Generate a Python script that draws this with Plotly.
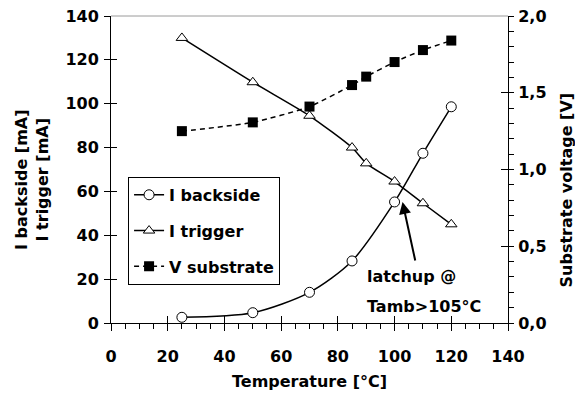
import plotly.graph_objects as go

temp_backside = [25, 50, 70, 85, 100, 110, 120]
i_backside = [2.6, 4.7, 14, 28.3, 55.2, 77.4, 98.6]

temp_trigger = [25, 50, 70, 85, 90, 100, 110, 120]
i_trigger = [130, 109.8, 94.5, 80, 72.8, 64.5, 54.6, 45]

temp_substrate = [25, 50, 70, 85, 90, 100, 110, 120]
v_substrate = [1.25, 1.307, 1.41, 1.55, 1.605, 1.70, 1.778, 1.84]

x_ticks = [0, 20, 40, 60, 80, 100, 120, 140]
y_left_ticks = [0, 20, 40, 60, 80, 100, 120, 140]
y_right_ticks = [0.0, 0.5, 1.0, 1.5, 2.0]

FONT = "DejaVu Sans"
BLACK = "#000000"

fig = go.Figure()

fig.add_trace(go.Scatter(
    x=temp_backside, y=i_backside, name="I backside", mode="lines+markers",
    line=dict(color=BLACK, width=1.5, shape="spline", smoothing=0.8),
    marker=dict(symbol="circle", size=10, color="white", line=dict(color=BLACK, width=1)),
    legendgroup="a",
))
fig.add_trace(go.Scatter(
    x=temp_trigger, y=i_trigger, name="I trigger", mode="lines+markers",
    line=dict(color=BLACK, width=1.5, shape="spline", smoothing=0.6),
    marker=dict(symbol="triangle-up", size=10, color="white", line=dict(color=BLACK, width=1)),
    legendgroup="b",
))
fig.add_trace(go.Scatter(
    x=temp_substrate, y=v_substrate, name="V substrate", mode="lines+markers",
    yaxis="y2",
    line=dict(color=BLACK, width=1.5, dash="5px,4px", shape="spline", smoothing=0.6),
    marker=dict(symbol="square", size=10, color=BLACK, line=dict(color=BLACK, width=0)),
    legendgroup="c",
))
# helper traces so that the tick-only overlay axes are drawn
fig.add_trace(go.Scatter(x=[None], y=[None], xaxis="x3", yaxis="y3", showlegend=False, hoverinfo="skip"))
fig.add_trace(go.Scatter(x=[None], y=[None], xaxis="x", yaxis="y4", showlegend=False, hoverinfo="skip"))

tickfont = dict(family=FONT, size=16, color=BLACK, weight="bold")
titlefont = dict(family=FONT, size=16, color=BLACK, weight="bold")

fig.update_layout(
    width=575, height=388,
    margin=dict(l=103, r=75, t=8, b=73, autoexpand=False),
    paper_bgcolor="white", plot_bgcolor="white",
    separators=",.",
    font=dict(family=FONT, color=BLACK, weight="bold"),
    showlegend=True,
    legend=dict(
        x=0.043, y=0.476, xanchor="left", yanchor="top",
        bgcolor="white", bordercolor=BLACK, borderwidth=1,
        font=dict(family=FONT, size=16, color=BLACK, weight="bold"),
        traceorder="grouped", tracegroupgap=12, itemwidth=30,
    ),
    xaxis=dict(
        range=[0, 140], tickvals=x_ticks, ticks="outside", ticklen=7, tickwidth=1,
        tickcolor=BLACK, showline=True, linecolor=BLACK, linewidth=1,
        showgrid=False, zeroline=False, tickfont=tickfont, ticklabelstandoff=12,
        ticklabeloverflow="allow",
        minor=dict(ticks="outside", dtick=5, ticklen=5, tickcolor=BLACK, showgrid=False),
        title=dict(text="Temperature [°C]", font=titlefont, standoff=10),
        automargin=False,
    ),
    yaxis=dict(
        range=[0, 140], tickvals=y_left_ticks, ticks="outside", ticklen=6, tickwidth=1,
        tickcolor=BLACK, showline=True, linecolor=BLACK, linewidth=1,
        showgrid=False, zeroline=False, tickfont=tickfont, ticklabeloverflow="allow",
        ticklabelstandoff=2,
        automargin=False,
    ),
    yaxis2=dict(
        range=[0, 2], tickvals=y_right_ticks, tickformat=".1f", overlaying="y", side="right",
        ticks="outside", ticklen=5, tickwidth=1, tickcolor=BLACK,
        showline=True, linecolor=BLACK, linewidth=1, ticklabelstandoff=1,
        ticklabeloverflow="allow",
        showgrid=False, zeroline=False, tickfont=tickfont,
        minor=dict(ticks="outside", dtick=0.1, ticklen=5, tickcolor=BLACK, showgrid=False),
        automargin=False,
    ),
    xaxis3=dict(
        range=[0, 140], tickvals=x_ticks, overlaying="x", anchor="y3", side="bottom",
        ticks="inside", ticklen=7, tickcolor=BLACK, showticklabels=False,
        showline=False, showgrid=False, zeroline=False,
    ),
    yaxis3=dict(
        range=[0, 140], tickvals=y_left_ticks, overlaying="y", anchor="x3", side="left",
        ticks="inside", ticklen=6, tickcolor=BLACK, showticklabels=False,
        showline=False, showgrid=False, zeroline=False,
    ),
    yaxis4=dict(
        range=[0, 2], tickvals=y_right_ticks, overlaying="y", side="right",
        ticks="inside", ticklen=7, tickcolor=BLACK, showticklabels=False,
        showline=False, showgrid=False, zeroline=False,
    ),
    shapes=[dict(type="line", xref="paper", yref="paper", x0=0, x1=1, y0=1, y1=1,
                 line=dict(color="#9a9a9a", width=1))],
    annotations=[
        # axis titles
        dict(x=-0.199, y=0.466, xref="paper", yref="paper", xanchor="center", yanchor="middle",
             text="I backside [mA]<br>I trigger [mA]", textangle=-90, showarrow=False,
             font=titlefont),
        dict(x=1.147, y=0.433, xref="paper", yref="paper", xanchor="center", yanchor="middle",
             text="Substrate voltage [V]", textangle=-90, showarrow=False,
             font=titlefont),
        # latchup note
        dict(x=102.8, y=55.2, xref="x", yref="y", ax=107.4, ay=27.8, axref="x", ayref="y",
             text="", showarrow=True, arrowhead=2, arrowsize=1.2, arrowwidth=2, arrowcolor=BLACK),
        dict(x=89.5, y=21, xref="x", yref="y", xanchor="left", yanchor="middle",
             text="latchup @", showarrow=False,
             font=dict(family=FONT, size=16, color=BLACK, weight="bold")),
        dict(x=89.5, y=7.7, xref="x", yref="y", xanchor="left", yanchor="middle",
             text="Tamb>105°C", showarrow=False,
             font=dict(family=FONT, size=16, color=BLACK, weight="bold")),
    ],
)

fig.write_html("out.html")
